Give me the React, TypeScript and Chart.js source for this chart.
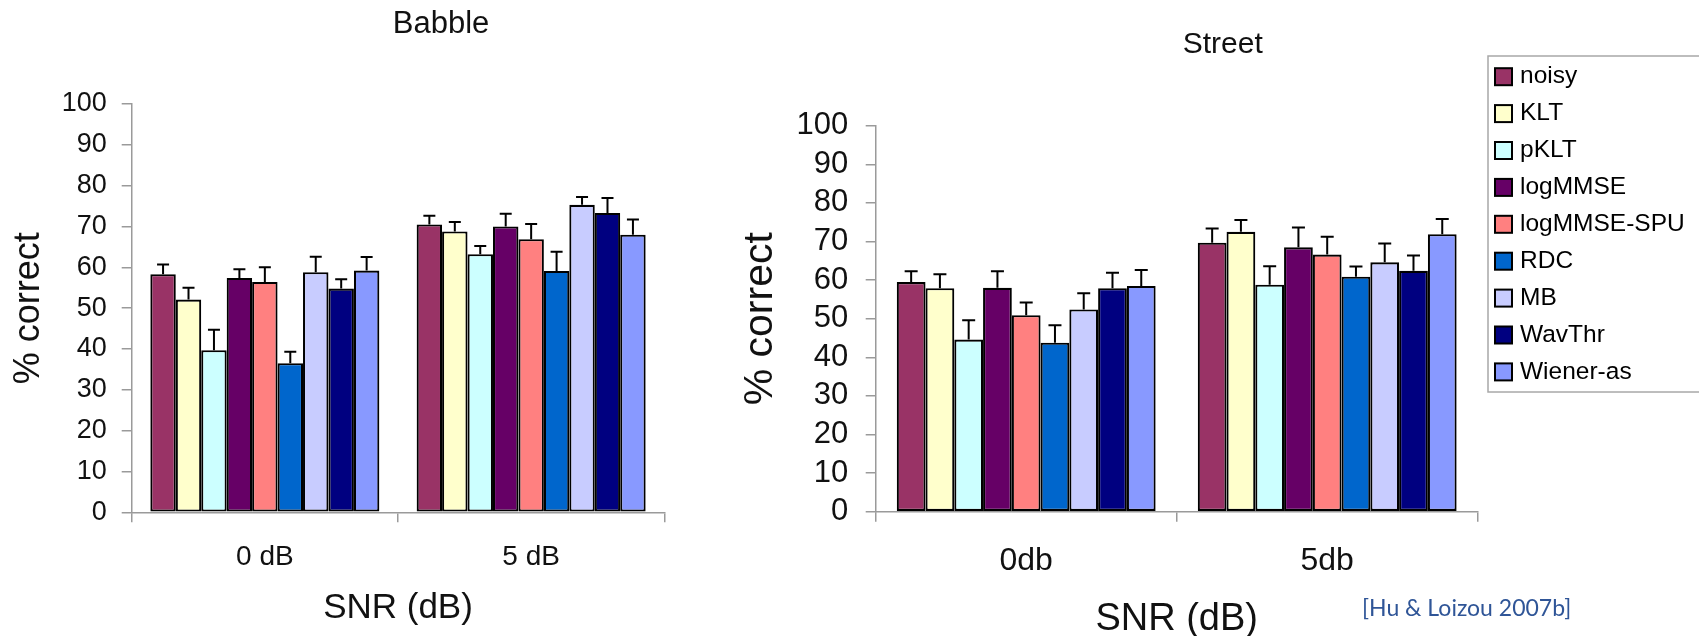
import React, { useEffect, useRef } from "react";
import { Chart, registerables } from "chart.js";

Chart.register(...registerables);

// ---------- data ----------
const SERIES = ["noisy", "KLT", "pKLT", "logMMSE", "logMMSE-SPU", "RDC", "MB", "WavThr", "Wiener-as"];
const COLORS = ["#993366", "#FFFFCC", "#CCFFFF", "#660066", "#FF8080", "#0066CC", "#C8CCFF", "#000080", "#8899FF"];

const Y_MIN = 0;
const Y_MAX = 100;
const Y_STEP = 10;

const BABBLE_TITLE = "Babble";
const BABBLE_CATEGORIES = ["0 dB", "5 dB"];
const BABBLE_0DB = [58.3, 52.1, 39.7, 57.4, 56.4, 36.5, 58.8, 54.8, 59.2];
const BABBLE_0DB_ERR = [2.4, 2.9, 5.0, 2.1, 3.6, 2.8, 3.8, 2.3, 3.3];
const BABBLE_5DB = [70.5, 68.8, 63.2, 70.0, 66.9, 59.1, 75.3, 73.3, 68.0];
const BABBLE_5DB_ERR = [2.1, 2.3, 2.0, 3.1, 3.7, 4.7, 1.9, 3.7, 3.7];

const STREET_TITLE = "Street";
const STREET_CATEGORIES = ["0db", "5db"];
const STREET_0DB = [59.5, 57.9, 44.6, 58.0, 50.9, 43.8, 52.4, 57.9, 58.5];
const STREET_0DB_ERR = [2.8, 3.6, 5.0, 4.3, 3.3, 4.5, 4.2, 4.0, 4.1];
const STREET_5DB = [69.7, 72.5, 58.8, 68.5, 66.6, 60.9, 64.6, 62.4, 71.9];
const STREET_5DB_ERR = [3.7, 3.1, 4.8, 5.1, 4.6, 2.6, 4.9, 4.0, 3.9];

const X_TITLE = "SNR (dB)";
const Y_TITLE = "% correct";
const CITATION = "[Hu & Loizou 2007b]";

// ---------- styling ----------
const FONT = "'Liberation Sans', Arial, Helvetica, sans-serif";
const AXIS_COLOR = "#9a9a9a";
const TEXT_COLOR = "#111";

// ---------- plugins ----------
const errorBarPlugin = {
  id: "errorBars",
  afterDatasetsDraw(chart: any, _args: any, opts: any) {
    const ctx = chart.ctx;
    const yScale = chart.scales.y;
    chart.data.datasets.forEach((ds: any, i: number) => {
      const meta = chart.getDatasetMeta(i);
      meta.data.forEach((bar: any, j: number) => {
        const v = ds.data[j];
        const e = ds.errors[j];
        const yTop = yScale.getPixelForValue(v + e);
        ctx.save();
        ctx.strokeStyle = "#000";
        ctx.lineWidth = opts.lineWidth;
        ctx.beginPath();
        ctx.moveTo(bar.x, bar.y);
        ctx.lineTo(bar.x, yTop);
        ctx.moveTo(bar.x - opts.cap / 2, yTop);
        ctx.lineTo(bar.x + opts.cap / 2, yTop);
        ctx.stroke();
        ctx.restore();
      });
    });
  },
};

const panelTitlePlugin = {
  id: "panelTitle",
  afterDraw(chart: any, _args: any, opts: any) {
    const ctx = chart.ctx;
    ctx.save();
    ctx.font = `${opts.size}px ${FONT}`;
    ctx.fillStyle = TEXT_COLOR;
    ctx.textAlign = "center";
    ctx.textBaseline = "middle";
    ctx.fillText(opts.text, opts.x, opts.y);
    ctx.restore();
  },
};

const boxLegendPlugin = {
  id: "boxLegend",
  afterDraw(chart: any, _args: any, opts: any) {
    if (!opts.show) return;
    const ctx = chart.ctx;
    ctx.save();
    ctx.strokeStyle = "#a8a8a8";
    ctx.lineWidth = 1.5;
    ctx.strokeRect(opts.left, opts.top, opts.width, opts.height);
    ctx.font = `${opts.size}px ${FONT}`;
    ctx.textAlign = "left";
    ctx.textBaseline = "middle";
    chart.data.datasets.forEach((ds: any, i: number) => {
      const cy = opts.firstRow + i * opts.rowGap;
      const s = opts.box;
      const bx = opts.left + opts.boxInset;
      ctx.fillStyle = ds.backgroundColor;
      ctx.fillRect(bx, cy - s / 2, s, s);
      ctx.strokeStyle = "#000";
      ctx.lineWidth = 2;
      ctx.strokeRect(bx, cy - s / 2, s, s);
      ctx.fillStyle = "#000";
      ctx.fillText(ds.label, opts.textX, cy);
    });
    ctx.restore();
  },
};

type Panel = {
  left: number;
  top: number;
  w: number;
  h: number;
  title: string;
  titleX: number;
  titleY: number;
  titleSize: number;
  categories: string[];
  values: number[][];
  errors: number[][];
  padTop: number;
  padRight: number;
  yWidth: number;
  xHeight: number;
  yTickSize: number;
  yTickPad: number;
  yTitleSize: number;
  yTitlePad: number;
  xTickSize: number;
  xTickPad: number;
  xTitleSize: number;
  xTitlePadBottom: number;
  cap: number;
  legend: any;
};

function buildConfig(p: Panel): any {
  const datasets = SERIES.map((name, i) => ({
    label: name,
    data: p.values.map((row) => row[i]),
    errors: p.errors.map((row) => row[i]),
    backgroundColor: COLORS[i],
    borderColor: "#000",
    borderWidth: 2.1,
    borderSkipped: false,
    categoryPercentage: 0.86,
    barPercentage: 1,
  }));
  return {
    type: "bar",
    data: { labels: p.categories, datasets },
    plugins: [errorBarPlugin, panelTitlePlugin, boxLegendPlugin],
    options: {
      animation: false,
      responsive: false,
      maintainAspectRatio: false,
      devicePixelRatio: 1,
      events: [],
      layout: { padding: { left: 0, top: p.padTop, right: p.padRight, bottom: 0 } },
      plugins: {
        legend: { display: false },
        tooltip: { enabled: false },
        title: { display: false },
        errorBars: { lineWidth: 2, cap: p.cap },
        panelTitle: { text: p.title, x: p.titleX, y: p.titleY, size: p.titleSize },
        boxLegend: p.legend,
      },
      scales: {
        x: {
          type: "category",
          afterFit: (s: any) => {
            s.height = p.xHeight;
          },
          grid: {
            offset: true,
            drawOnChartArea: false,
            drawTicks: true,
            tickLength: 10,
            color: AXIS_COLOR,
            lineWidth: 1.5,
          },
          border: { display: true, color: AXIS_COLOR, width: 1.5 },
          ticks: {
            color: TEXT_COLOR,
            padding: p.xTickPad,
            maxRotation: 0,
            autoSkip: false,
            font: { family: FONT, size: p.xTickSize, lineHeight: 1.2 },
          },
          title: {
            display: true,
            text: X_TITLE,
            color: TEXT_COLOR,
            font: { family: FONT, size: p.xTitleSize, lineHeight: 1.2 },
            padding: { top: 0, bottom: p.xTitlePadBottom },
          },
        },
        y: {
          type: "linear",
          min: Y_MIN,
          max: Y_MAX,
          afterFit: (s: any) => {
            s.width = p.yWidth;
          },
          grid: {
            drawOnChartArea: false,
            drawTicks: true,
            tickLength: 10,
            color: AXIS_COLOR,
            lineWidth: 1.5,
          },
          border: { display: true, color: AXIS_COLOR, width: 1.5 },
          ticks: {
            stepSize: Y_STEP,
            autoSkip: false,
            color: TEXT_COLOR,
            padding: p.yTickPad,
            font: { family: FONT, size: p.yTickSize, lineHeight: 1.0 },
          },
          title: {
            display: true,
            text: Y_TITLE,
            color: TEXT_COLOR,
            font: { family: FONT, size: p.yTitleSize, lineHeight: 1.2 },
            padding: { top: p.yTitlePad, bottom: 0 },
          },
        },
      },
    },
  };
}

const BABBLE_PANEL: Panel = {
  left: 0,
  top: 0,
  w: 700,
  h: 636,
  title: BABBLE_TITLE,
  titleX: 441,
  titleY: 24,
  titleSize: 31,
  categories: BABBLE_CATEGORIES,
  values: [BABBLE_0DB, BABBLE_5DB],
  errors: [BABBLE_0DB_ERR, BABBLE_5DB_ERR],
  padTop: 104,
  padRight: 700 - 664.3,
  yWidth: 131.7,
  xHeight: 636 - 512.3,
  yTickSize: 27,
  yTickPad: 15,
  yTitleSize: 36,
  yTitlePad: 7,
  xTickSize: 28,
  xTickPad: 18.5,
  xTitleSize: 35,
  xTitlePadBottom: 7,
  cap: 12,
  legend: { show: false },
};

const STREET_PANEL: Panel = {
  left: 700,
  top: 0,
  w: 999,
  h: 650,
  title: STREET_TITLE,
  titleX: 522.7,
  titleY: 45,
  titleSize: 30,
  categories: STREET_CATEGORIES,
  values: [STREET_0DB, STREET_5DB],
  errors: [STREET_0DB_ERR, STREET_5DB_ERR],
  padTop: 125.7,
  padRight: 999 - 777.7,
  yWidth: 175.7,
  xHeight: 650 - 511.7,
  yTickSize: 31,
  yTickPad: 17.4,
  yTitleSize: 41,
  yTitlePad: 36.2,
  xTickSize: 32,
  xTickPad: 20,
  xTitleSize: 38,
  xTitlePadBottom: 7.2,
  cap: 13,
  legend: {
    show: true,
    left: 788,
    top: 56,
    width: 400,
    height: 336,
    box: 17,
    boxInset: 7,
    textX: 820,
    firstRow: 76.7,
    rowGap: 36.9,
    size: 24.5,
  },
};

function ChartPanel({ panel }: { panel: Panel }) {
  const ref = useRef<HTMLCanvasElement>(null);
  useEffect(() => {
    if (!ref.current) return;
    const chart = new Chart(ref.current, buildConfig(panel));
    return () => chart.destroy();
  }, [panel]);
  return (
    <canvas
      ref={ref}
      width={panel.w}
      height={panel.h}
      style={{ position: "absolute", left: panel.left, top: panel.top, width: panel.w, height: panel.h }}
    />
  );
}

export default function App() {
  return (
    <div
      style={{
        position: "fixed",
        left: 0,
        top: 0,
        width: 1699,
        height: 636,
        overflow: "hidden",
        background: "#fff",
      }}
    >
      <ChartPanel panel={BABBLE_PANEL} />
      <ChartPanel panel={STREET_PANEL} />
      <div
        style={{
          position: "absolute",
          left: 1362,
          top: 596,
          fontFamily: "Lato, 'Open Sans', sans-serif",
          fontSize: 23,
          lineHeight: 1,
          color: "#2F5597",
          whiteSpace: "nowrap",
        }}
      >
        {CITATION}
      </div>
    </div>
  );
}
